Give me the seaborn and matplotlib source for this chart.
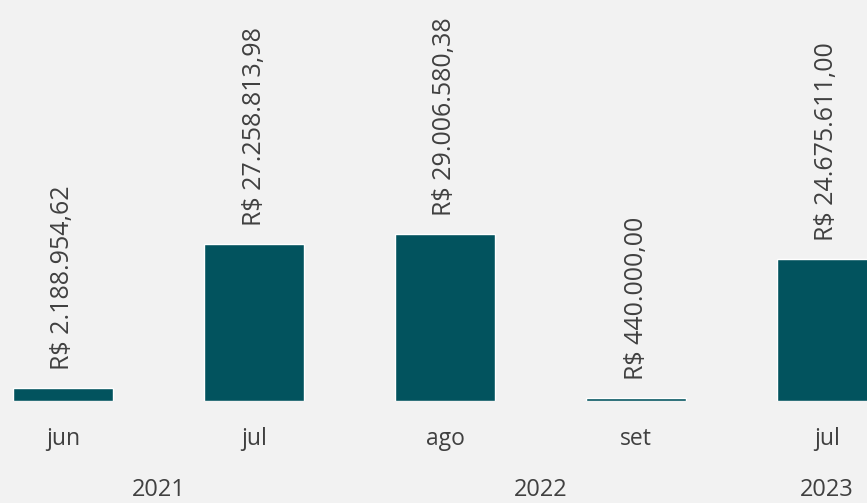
import matplotlib
matplotlib.use("Agg")
import matplotlib.pyplot as plt
import matplotlib.transforms as mtransforms
import seaborn as sns
import pandas as pd

periodos = ["jun/2021", "jul/2021", "ago/2022", "set/2022", "jul/2023"]
meses = ["jun", "jul", "ago", "set", "jul"]
anos = ["2021", "2021", "2022", "2022", "2023"]
valores = [2188954.62, 27258813.98, 29006580.38, 440000.00, 24675611.00]

df = pd.DataFrame({"periodo": periodos, "mes": meses, "ano": anos, "valor": valores})

sns.set_theme(style="white")
plt.rcParams["font.family"] = ["Open Sans", "DejaVu Sans"]

BG = "#F2F2F2"
BAR = "#02535E"
TXT = "#404040"

fig = plt.figure(figsize=(8.67, 5.03), dpi=100, facecolor=BG)
ax = fig.add_axes([0, 102 / 503, 1, 401 / 503])
ax.set_facecolor(BG)

sns.barplot(data=df, x="periodo", y="valor", color=BAR, width=0.524,
            saturation=1, ax=ax, order=periodos)

ax.set_xlim(-63 / 191, (867 - 63) / 191)
ax.set_ylim(0, 401 / 167 * 29006580.38)

def fmt(v):
    s = f"{v:,.2f}"
    s = s.replace(",", "X").replace(".", ",").replace("X", ".")
    return "R$ " + s

for i, v in enumerate(valores):
    ax.annotate(fmt(v), xy=(i, v), xytext=(0, 13), textcoords="offset points",
                rotation=90, ha="center", va="bottom", fontsize=18, color=TXT)

ax.set_xticks(range(len(meses)))
ax.set_xticklabels(meses, fontsize=16.5, color=TXT)
ax.tick_params(axis="x", length=0, pad=19)
ax.set_yticks([])
ax.set_xlabel("")
ax.set_ylabel("")
for s in ax.spines.values():
    s.set_visible(False)

trans = mtransforms.blended_transform_factory(ax.transData, fig.transFigure)
grupos = {}
for i, a in enumerate(anos):
    grupos.setdefault(a, []).append(i)
for a, idx in grupos.items():
    xc = sum(idx) / len(idx)
    ax.text(xc, 13 / 503, a, transform=trans, ha="center", va="center",
            fontsize=17, color=TXT, clip_on=False)

fig.savefig("out.png", dpi=100, facecolor=BG)
